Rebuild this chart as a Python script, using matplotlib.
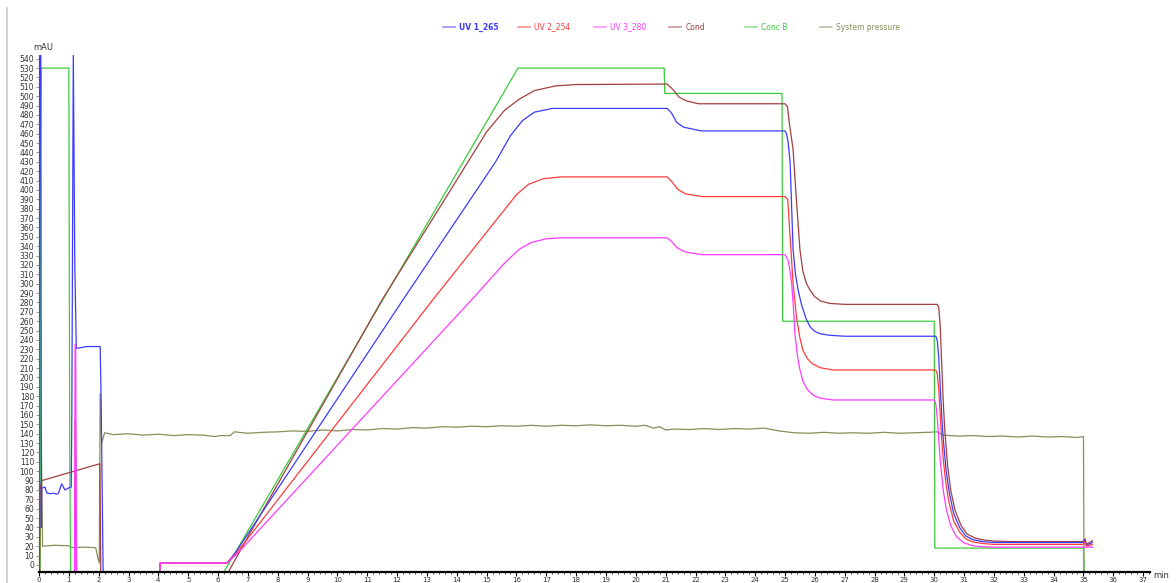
import matplotlib
matplotlib.use("Agg")
import matplotlib.pyplot as plt
from matplotlib.lines import Line2D
from matplotlib.ticker import MultipleLocator

# ---- data (x in min, y in mAU-scale) ----
uv1_x = [0, 0.02, 0.06, 0.08, 0.09, 0.2, 0.26, 0.37, 0.48, 0.59, 0.65, 0.76, 0.87, 0.98, 1.08,
         1.1, 1.15, 1.2, 1.25, 1.6, 2.05, 2.08, 2.15, 4.05, 4.06, 6.3, 6.6, 12.2, 15.3, 15.8,
         16.2, 16.6, 17.2, 21.05, 21.2, 21.37, 21.6, 22.2,
         25.0, 25.05, 25.1, 25.17, 25.27, 25.35, 25.44, 25.55, 25.7, 25.84, 26.0, 26.2, 26.5, 27.0,
         30.05, 30.1, 30.15, 30.2, 30.25, 30.3, 30.4, 30.5, 30.65, 30.85, 31.05, 31.3, 31.6, 32.0,
         35.0, 35.05, 35.1, 35.3]
uv1_y = [-10, 545, 545, 40, 82, 83, 77, 76, 76.5, 75.5, 76.5, 86.5, 80, 82, 83,
         160, 545, 320, 231, 233, 233, 180, -10, -10, 2, 2, 14, 283, 430, 458,
         474, 483, 487, 487, 482, 472, 467, 463,
         463, 460, 452, 430, 336, 310, 293, 278, 263, 254, 249, 246.5, 245, 244,
         244, 240, 222, 190, 160, 135, 100, 78, 55, 40, 31, 27, 25, 24,
         24, 27, 21, 24]

uv2_x = [0, 1.2, 1.22, 1.24, 1.26, 4.05, 4.06, 6.3, 6.6, 13.2, 15.5, 16.0, 16.4, 16.9, 17.5,
         21.05, 21.2, 21.4, 21.65, 22.2,
         25.0, 25.09, 25.15, 25.27, 25.38, 25.5, 25.6, 25.75, 25.9, 26.17, 26.6,
         30.05, 30.1, 30.15, 30.2, 30.25, 30.3, 30.4, 30.5, 30.65, 30.85, 31.05, 31.3, 31.6, 32.0,
         35.0, 35.05, 35.1, 35.3]
uv2_y = [-10, -10, 155, 60, -10, -10, 2, 2, 12, 283, 375, 395, 406, 412, 414,
         414, 409, 401, 396, 393,
         393, 390, 360, 300, 265, 242, 229, 220, 215, 210.5, 208,
         208, 204, 188, 160, 135, 113, 85, 66, 47, 35, 28, 24.5, 23, 22,
         22, 25, 20, 22]

uv3_x = [0, 1.19, 1.21, 1.23, 1.26, 4.05, 4.06, 6.3, 6.7, 14.5, 15.6, 16.1, 16.5, 17.0, 17.5,
         21.05, 21.2, 21.4, 21.65, 22.2,
         25.0, 25.1, 25.16, 25.22, 25.28, 25.33, 25.42, 25.5, 25.6, 25.75, 25.95, 26.17, 26.6,
         30.0, 30.05, 30.1, 30.15, 30.2, 30.3, 30.4, 30.55, 30.75, 31.0, 31.3, 31.6, 32.0, 35.3]
uv3_y = [-10, -10, 235, 235, -10, -10, 2, 2, 14, 283, 322, 337, 344, 348, 349,
         349, 345, 338, 334, 331,
         331, 325, 315, 301, 275, 247, 222, 208, 196, 187, 181, 178, 176,
         176, 172, 158, 135, 112, 80, 60, 42, 30, 23.5, 20.5, 19.5, 19, 19]

cond_x = [0.02, 0.04, 0.09, 2.04, 2.07, 6.3, 7.0, 11.5, 13.5, 15.0, 15.6, 16.1, 16.6, 17.3, 18.0,
          21.05, 21.25, 21.45, 21.7, 22.1,
          25.0, 25.08, 25.15, 25.27, 25.38, 25.5, 25.6, 25.72, 25.84, 26.0, 26.2, 26.5, 27.0,
          30.1, 30.15, 30.2, 30.25, 30.3, 30.35, 30.45, 30.55, 30.7, 30.9, 31.1, 31.35, 31.6,
          32.0, 32.5, 35.0, 35.05, 35.1, 35.3]
cond_y = [-10, 80, 90, 108, -10, -10, 30, 283, 385, 462, 485, 497, 506, 511, 512.5,
          513, 507, 499, 495, 492,
          492, 489, 470, 443, 390, 336, 313, 300, 293, 286, 281.5, 279, 278,
          278, 275, 255, 215, 175, 145, 105, 80, 58, 42, 33, 29, 27,
          25.5, 25, 25, 28, 22, 26]

concb_x = [0, 0.04, 0.05, 0.07, 1.0, 1.03, 1.06, 6.15, 16.05, 20.95, 20.97, 24.9, 24.92,
           30.0, 30.02, 35.0, 35.02]
concb_y = [-10, -10, 440, 530, 530, 120, -10, -10, 530, 530, 503, 503, 260,
           260, 18, 18, -10]

press_x = [0, 0.03, 0.08, 0.12, 0.5, 1.0, 1.1, 1.5, 1.9, 1.97, 2.02, 2.05, 2.1, 2.2, 2.5,
           3.0, 3.5, 4.0, 4.5, 5.0, 5.5, 5.9, 6.1, 6.4, 6.55, 7.0, 7.5, 8.0, 8.5, 9.0, 9.5,
           10.0, 10.5, 11.0, 11.5, 12.0, 12.5, 13.0, 13.5, 14.0, 14.5, 15.0, 15.5, 16.0,
           16.5, 17.0, 17.5, 18.0, 18.5, 19.0, 19.5, 20.0, 20.3, 20.6, 20.8, 21.0, 21.3,
           21.8, 22.3, 22.8, 23.3, 23.8, 24.3, 24.8, 25.3, 25.8, 26.3, 26.8, 27.3, 27.8,
           28.3, 28.8, 29.3, 29.8, 30.1, 30.3, 30.8, 31.3, 31.8, 32.3, 32.8, 33.3, 33.8,
           34.3, 34.8, 35.0, 35.02]
press_y = [-10, 165, 130, 20, 21, 20.5, 18.5, 19, 18.5, 8, 2, 183, 130, 141, 139,
           140, 138.5, 139.5, 138, 139, 138.5, 137, 138, 138, 142, 140.5, 141.5, 142, 143,
           142.5, 144, 143, 144.5, 144, 145.5, 145, 146.5, 146, 147.5, 147, 148, 147.5,
           148.5, 148, 149, 148, 149, 148.5, 149.5, 148.5, 149, 148, 149, 146, 147.5, 144,
           145, 144.5, 145.5, 144.5, 145.5, 145, 146, 143, 141, 140.5, 141.5, 140.5, 141,
           140.5, 141.5, 140.5, 141, 141.5, 142, 138.5, 137.5, 138, 137, 137.5, 136.5,
           137.5, 136.5, 137, 136, 137, -10]

names = ["UV 1_265", "UV 2_254", "UV 3_280", "Cond", "Conc B", "System pressure"]
colors = ["#3b3bff", "#ff3b3b", "#ff3bff", "#a04040", "#3ccc3c", "#8c8c5c"]

W, H = 1176, 583
fig = plt.figure(figsize=(W / 100, H / 100), dpi=100)
ax = fig.add_axes([39 / W, 1 - 572 / H, (1150 - 39) / W, (572 - 55) / H])

series = [(press_x, press_y, 5), (concb_x, concb_y, 4), (cond_x, cond_y, 3),
          (uv1_x, uv1_y, 0), (uv2_x, uv2_y, 1), (uv3_x, uv3_y, 2)]
for xs, ys, i in series:
    ax.plot(xs, ys, color=colors[i], lw=0.9)

ax.set_xlim(0, 37.23)
ax.set_ylim(-7.5, 544)
ax.xaxis.set_major_locator(MultipleLocator(1))
ax.xaxis.set_minor_locator(MultipleLocator(0.2))
ax.yaxis.set_major_locator(MultipleLocator(10))
ax.yaxis.set_minor_locator(MultipleLocator(2))
ax.set_yticks(range(0, 541, 10))

for s in ["top", "right", "left"]:
    ax.spines[s].set_visible(False)
ax.spines["bottom"].set_linewidth(1.6)
ax.spines["bottom"].set_color("black")

ax.tick_params(axis="x", which="major", length=3, width=0.8, labelsize=5,
               colors="black", labelcolor="#333333", pad=0.5)
ax.tick_params(axis="x", which="minor", length=1.5, width=0.5, colors="black")
ax.tick_params(axis="y", which="major", length=2, width=0.6, labelsize=5.5,
               colors="#888888", labelcolor="#333333", pad=1.5)
ax.tick_params(axis="y", which="minor", length=1, width=0.4, colors="#aaaaaa")

fig.text(33 / W, 1 - 47 / H, "mAU", fontsize=6, color="#333333", va="center", ha="left")
fig.text(1153 / W, 1 - 576 / H, "min", fontsize=6, color="#333333", va="center", ha="left")

# gray frame line on the left
fig.add_artist(Line2D([7 / W, 7 / W], [0, 1 - 8 / H], color="#c8c8c8", lw=1.2))

# legend row across the top
for i, (name, c) in enumerate(zip(names, colors)):
    x0 = 443 + 75.4 * i
    yy = 1 - 27 / H
    fig.add_artist(Line2D([x0 / W, (x0 + 12) / W], [yy, yy], color=c, lw=1.2, alpha=0.55))
    fig.text((x0 + 16) / W, yy, name, fontsize=5.5, color=c, va="center", ha="left",
             fontweight="bold" if i == 0 else "normal")

plt.savefig("out.png", dpi=100)
